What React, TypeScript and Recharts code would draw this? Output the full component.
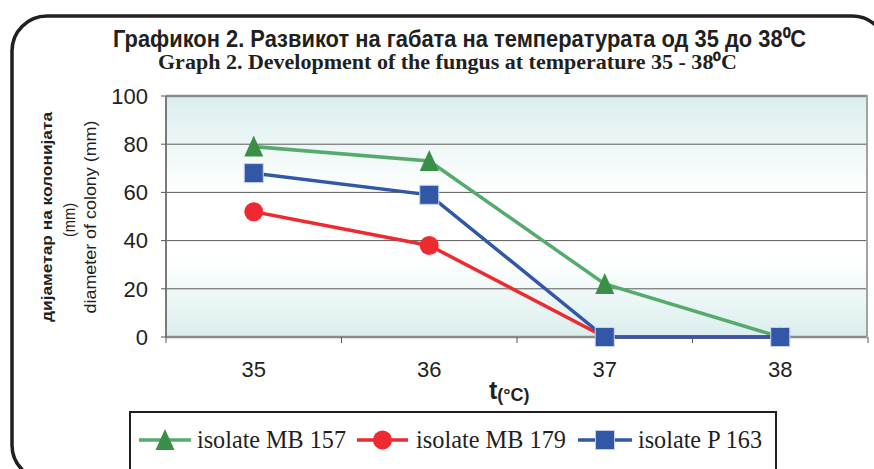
import React from 'react';
import { LineChart, Line, XAxis, YAxis, CartesianGrid } from 'recharts';

// ---- data ----
const temps = [35, 36, 37, 38];
const mb157 = [79, 73, 22, 0];
const mb179 = [52, 38, 0, 0];
const p163 = [68, 59, 0, 0];
const yTicks = [0, 20, 40, 60, 80, 100];
const seriesKeys = ['mb157', 'mb179', 'p163'];
const seriesNames = ['isolate MB 157', 'isolate MB 179', 'isolate P 163'];
const seriesShapes = ['triangle', 'circle', 'square'];
const lineColors = ['#55ab6c', '#ee2a30', '#3157a6'];
const markerColors = ['#3a8f47', '#ee2a30', '#3157a6'];

const titleMk = 'Графикон 2. Развикот на габата на температурата од 35 до 38⁰C';
const titleEn = 'Graph 2. Development of the fungus at temperature 35 - 38⁰C';
const yLabel1 = 'дијаметар  на колонијата';
const yLabel2 = '(mm)';
const yLabel3 = 'diameter of colony (mm)';

const data = temps.map((t, i) => ({ t, mb157: mb157[i], mb179: mb179[i], p163: p163[i] }));
const xBoundaries = [temps[0] - 0.5, ...temps.map((t) => t + 0.5)];
const xTicks = [...xBoundaries, ...temps].sort((a, b) => a - b);

const SANS = '"Liberation Sans", Arial, sans-serif';
const SERIF = '"Liberation Serif", "Times New Roman", serif';

function Marker({ shape, cx, cy, color }: { shape: string; cx: number; cy: number; color: string }) {
  if (shape === 'triangle')
    return <path d={`M${cx},${cy - 11} L${cx + 9.5},${cy + 10} L${cx - 9.5},${cy + 10} Z`} fill={color} />;
  if (shape === 'circle') return <circle cx={cx} cy={cy} r={9.5} fill={color} />;
  return <rect x={cx - 9.5} y={cy - 9.5} width={19} height={19} fill={color} stroke="#c5d0ec" strokeWidth={1} />;
}

const XTick = (props: any) => {
  const { x, y, payload } = props;
  const v = payload.value;
  if (Number.isInteger(v)) {
    return (
      <text x={x} y={y + 40} textAnchor="middle" fontSize={22} fontFamily={SANS} fill="#231f20">
        {v}
      </text>
    );
  }
  return <line x1={x} y1={y} x2={x} y2={y + 6} stroke="#555" strokeWidth={1} />;
};

// horizontal grid lines; the outer (top/bottom) ones form the gray plot border
const GridLine = (props: any) => {
  const { x1, x2, y1, y2, index, key } = props;
  const outer = index === 0 || index === yTicks.length - 1;
  return (
    <line
      key={key ?? `g-${index}`}
      x1={x1}
      x2={x2}
      y1={y1}
      y2={y2}
      stroke={outer ? '#8a8a8a' : '#5a5a5a'}
      strokeWidth={outer ? 2.5 : 1}
    />
  );
};

const legendPos = [
  { lx1: 139, lx2: 191, tx: 197, tl: 149 },
  { lx1: 357, lx2: 408, tx: 416, tl: 150 },
  { lx1: 578, lx2: 632, tx: 638, tl: 124 },
];

export default function App() {
  return (
    <div style={{ position: 'absolute', left: 0, top: 0, width: 874, height: 469, background: '#fff', overflow: 'hidden' }}>
      <LineChart width={874} height={469} data={data} margin={{ top: 96, right: 6, left: 106, bottom: 102 }}>
        <defs>
          <linearGradient id="plotBg" x1="0" y1="0" x2="0" y2="1">
            <stop offset="0%" stopColor="#daeeed" />
            <stop offset="40%" stopColor="#ffffff" />
            <stop offset="68%" stopColor="#ffffff" />
            <stop offset="100%" stopColor="#daeeed" />
          </linearGradient>
        </defs>
        <CartesianGrid vertical={false} horizontal={GridLine as any} fill="url(#plotBg)" fillOpacity={1} />
        <XAxis
          dataKey="t"
          type="number"
          domain={[xBoundaries[0], xBoundaries[xBoundaries.length - 1]]}
          ticks={xTicks}
          interval={0}
          tick={<XTick />}
          tickLine={false}
          tickSize={0}
          tickMargin={0}
          height={30}
          axisLine={false}
        />
        <YAxis
          type="number"
          domain={[0, 100]}
          ticks={yTicks}
          interval={0}
          width={60}
          tickSize={5}
          tickMargin={13}
          tickLine={{ stroke: '#555' }}
          axisLine={{ stroke: '#7a7a7a', strokeWidth: 2 }}
          tick={{ fill: '#231f20', fontSize: 22, fontFamily: SANS }}
        />
        {seriesKeys.map((k, si) => (
          <Line
            key={k}
            dataKey={k}
            type="linear"
            stroke={lineColors[si]}
            strokeWidth={3.5}
            isAnimationActive={false}
            dot={(p: any) => (
              <g key={`${k}-${p.index}`}>
                <Marker shape={seriesShapes[si]} cx={p.cx} cy={p.cy} color={markerColors[si]} />
              </g>
            )}
            activeDot={false}
          />
        ))}
      </LineChart>
      <svg width={874} height={469} style={{ position: 'absolute', left: 0, top: 0, pointerEvents: 'none' }}>
        <rect x={12} y={16} width={875} height={464} rx={35} ry={35} fill="none" stroke="#231f20" strokeWidth={3.5} />
        <line x1={867} y1={95} x2={867} y2={338} stroke="#a3a3a3" strokeWidth={2} />
        <g fill="#231f20" fontWeight="bold">
          <text x={113} y={47} fontSize={23} fontFamily={'"Liberation Sans Narrow", "Arial Narrow", ' + SANS} textLength={693} lengthAdjust="spacingAndGlyphs">
            {titleMk}
          </text>
          <text x={158} y={69} fontSize={20} fontFamily={SERIF} textLength={579} lengthAdjust="spacingAndGlyphs">
            {titleEn}
          </text>
        </g>
        <g transform="translate(52,217) rotate(-90)">
          <text x={0} y={0} textAnchor="middle" fontSize={15} fontWeight="bold" fontFamily={SANS} fill="#231f20" textLength={210} lengthAdjust="spacingAndGlyphs">
            {yLabel1}
          </text>
        </g>
        <g transform="translate(75,220) rotate(-90)">
          <text x={0} y={0} textAnchor="middle" fontSize={16} fontFamily={SANS} fill="#231f20" textLength={34} lengthAdjust="spacingAndGlyphs">
            {yLabel2}
          </text>
        </g>
        <g transform="translate(96,217) rotate(-90)">
          <text x={0} y={0} textAnchor="middle" fontSize={16} fontFamily={SANS} fill="#231f20" textLength={193} lengthAdjust="spacingAndGlyphs">
            {yLabel3}
          </text>
        </g>
        <text x={489} y={399} fontSize={25} fontWeight="bold" fontFamily={SANS} fill="#231f20">
          t<tspan fontSize={18} dy={2}>(°C)</tspan>
        </text>
        <rect x={130} y={412} width={646} height={70} fill="#fff" stroke="#231f20" strokeWidth={2} />
        {legendPos.map((pos, i) => (
          <g key={i}>
            <line x1={pos.lx1} y1={440} x2={pos.lx2} y2={440} stroke={lineColors[i]} strokeWidth={3.5} />
            <Marker shape={seriesShapes[i]} cx={(pos.lx1 + pos.lx2) / 2} cy={440} color={markerColors[i]} />
            <text x={pos.tx} y={448} fontSize={25} fontFamily={SERIF} fill="#231f20" textLength={pos.tl} lengthAdjust="spacingAndGlyphs">
              {seriesNames[i]}
            </text>
          </g>
        ))}
      </svg>
    </div>
  );
}
